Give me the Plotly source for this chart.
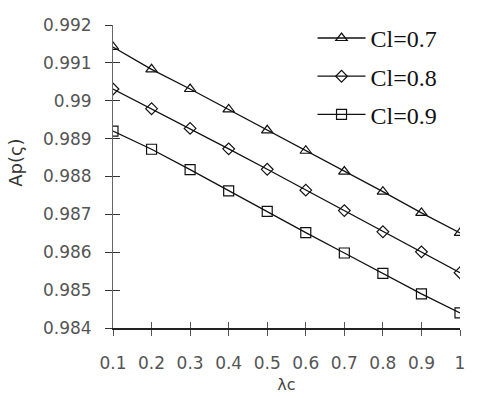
import plotly.graph_objects as go

# Horizontal axis values (lambda c)
lam_c = [0.1, 0.2, 0.3, 0.4, 0.5, 0.6, 0.7, 0.8, 0.9, 1.0]
x_tick_labels = ["0.1", "0.2", "0.3", "0.4", "0.5", "0.6", "0.7", "0.8", "0.9", "1"]

# Ap(s) for each C1 level
ap_c07 = [0.99142, 0.99083, 0.99031, 0.98977, 0.98922, 0.98868, 0.98813, 0.98760, 0.98704, 0.98651]
ap_c08 = [0.99031, 0.98979, 0.98927, 0.98873, 0.98819, 0.98764, 0.98710, 0.98654, 0.98601, 0.98546]
ap_c09 = [0.98920, 0.98872, 0.98818, 0.98762, 0.98708, 0.98652, 0.98598, 0.98544, 0.98490, 0.98440]

series = [
    ("Cl=0.7", ap_c07, "triangle-up-open", 10),
    ("Cl=0.8", ap_c08, "diamond-open", 9),
    ("Cl=0.9", ap_c09, "square-open", 10),
]

y_ticks = [0.984, 0.985, 0.986, 0.987, 0.988, 0.989, 0.990, 0.991, 0.992]
y_tick_labels = ["0.984", "0.985", "0.986", "0.987", "0.988", "0.989", "0.99", "0.991", "0.992"]

fig = go.Figure()
for name, vals, sym, sz in series:
    fig.add_trace(go.Scatter(
        x=lam_c, y=vals, name=name, legendgroup=name, mode="lines+markers",
        line=dict(color="#111111", width=1.3),
        marker=dict(symbol=sym, size=sz, color="#111111", line=dict(width=1.2, color="#111111")),
    ))

tick_font = dict(family="DejaVu Sans, sans-serif", size=17, color="#555555")

fig.update_layout(
    width=480, height=398,
    margin=dict(l=113, r=20, t=25, b=70),
    paper_bgcolor="white", plot_bgcolor="white",
    showlegend=True,
    legend=dict(
        x=0.575, y=1.03, xanchor="left", yanchor="top",
        font=dict(family="Liberation Serif, Times New Roman, serif", size=24, color="#111111"),
        bgcolor="rgba(0,0,0,0)", itemwidth=48, tracegroupgap=4,
    ),
    xaxis=dict(
        range=[0.1, 1.0], tickvals=lam_c, ticktext=x_tick_labels, automargin=False,
        showgrid=False, zeroline=False, showline=True, linecolor="#222222", linewidth=1.5,
        ticks="outside", ticklen=6, tickcolor="#555555", tickfont=tick_font,
        ticklabelstandoff=13,
        title=dict(text="λc", font=dict(family="DejaVu Sans, sans-serif", size=16, color="#444444"), standoff=7),
    ),
    yaxis=dict(
        range=[0.984, 0.992], tickvals=y_ticks, ticktext=y_tick_labels, automargin=False,
        showgrid=False, zeroline=False, showline=True, linecolor="#666666", linewidth=1,
        ticks="outside", ticklen=7, tickcolor="#333333", tickfont=tick_font,
        ticklabelstandoff=10,
    ),
    xaxis2=dict(
        overlaying="x", matches="x", range=[0.1, 1.0], tickvals=lam_c, showticklabels=False,
        showgrid=False, zeroline=False, showline=False, ticks="inside", ticklen=6, tickcolor="#555555",
    ),
    yaxis2=dict(
        overlaying="y", matches="y", range=[0.984, 0.992], tickvals=y_ticks, showticklabels=False,
        showgrid=False, zeroline=False, showline=False, ticks="inside", ticklen=7, tickcolor="#333333",
    ),
    annotations=[dict(
        text="Ap(ς)", textangle=-90, xref="paper", yref="paper",
        x=-0.28, y=0.545, xanchor="center", yanchor="middle", showarrow=False,
        font=dict(family="DejaVu Sans, sans-serif", size=18, color="#333333"),
    )],
)

# Invisible trace to show the inner half of the tick marks
fig.add_trace(go.Scatter(x=[lam_c[0]], y=[ap_c09[0]], xaxis="x2", yaxis="y2",
                         mode="markers", marker=dict(opacity=0), showlegend=False, hoverinfo="skip"))

fig.write_html("out.html")
